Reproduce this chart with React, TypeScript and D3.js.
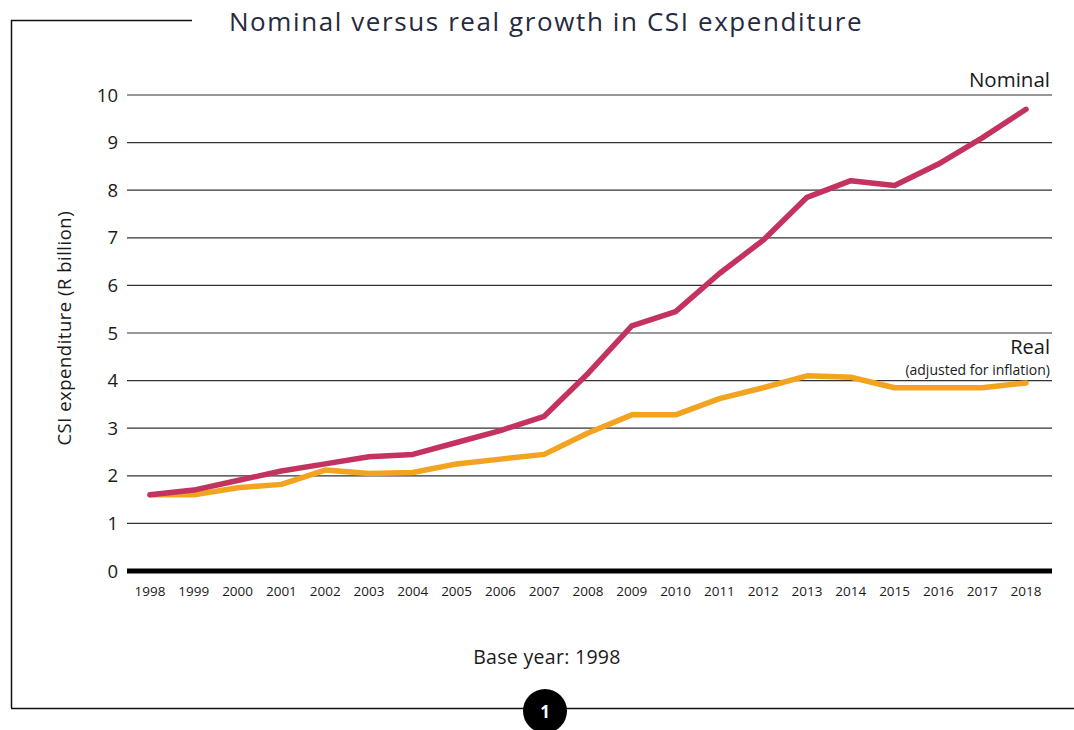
import * as d3 from "d3";

const years = [
  1998, 1999, 2000, 2001, 2002, 2003, 2004, 2005, 2006, 2007, 2008, 2009,
  2010, 2011, 2012, 2013, 2014, 2015, 2016, 2017, 2018,
];
const nominal = [
  1.6, 1.7, 1.9, 2.1, 2.25, 2.4, 2.45, 2.7, 2.95, 3.25, 4.15, 5.15, 5.45,
  6.25, 6.95, 7.85, 8.2, 8.1, 8.55, 9.1, 9.7,
];
const real = [
  1.6, 1.6, 1.75, 1.82, 2.12, 2.05, 2.07, 2.25, 2.35, 2.45, 2.9, 3.28, 3.28,
  3.62, 3.85, 4.1, 4.07, 3.85, 3.85, 3.85, 3.95,
];
const yTicks = [0, 1, 2, 3, 4, 5, 6, 7, 8, 9, 10];

const W = 1074;
const H = 730;
const FONT = "'Open Sans', 'DejaVu Sans', sans-serif";

export default function App() {
  const x = d3.scalePoint<number>().domain(years).range([150, 1026]);
  const y = d3.scaleLinear().domain([0, 10]).range([571, 95]);

  const line = d3
    .line<number>()
    .x((_, i) => x(years[i])!)
    .y((d) => y(d));

  return (
    <svg
      width={W}
      height={H}
      style={{ position: "absolute", left: 0, top: 0, background: "#fff" }}
      fontFamily={FONT}
    >
      {/* frame */}
      <path d="M192,20.5 H11.5 V708" fill="none" stroke="#111" strokeWidth={1.5} />
      <line x1={11} x2={W} y1={708.5} y2={708.5} stroke="#111" strokeWidth={1.5} />
      <circle cx={545} cy={711} r={22} fill="#000" />
      <text x={545} y={718} fill="#fff" fontSize={17} fontWeight="bold" textAnchor="middle">
        1
      </text>

      <text x={546} y={31} fontSize={26} fill="#262a40" textAnchor="middle" letterSpacing={1.6}>
        Nominal versus real growth in CSI expenditure
      </text>

      {/* grid + y ticks */}
      {yTicks.map((t) => (
        <g key={t}>
          {t > 0 && (
            <line x1={127} x2={1052} y1={y(t)} y2={y(t)} stroke="#333" strokeWidth={1.2} />
          )}
          <text x={118} y={y(t) + 6.5} fontSize={18.5} fill="#1a1a1a" textAnchor="end">
            {t}
          </text>
        </g>
      ))}
      <line x1={127} x2={1052} y1={y(0)} y2={y(0)} stroke="#000" strokeWidth={5} />

      {/* x ticks */}
      {years.map((yr) => (
        <text key={yr} x={x(yr)} y={596} fontSize={13.5} fill="#1a1a1a" textAnchor="middle">
          {yr}
        </text>
      ))}

      <text
        transform={`translate(71,${y(5.1)}) rotate(-90)`}
        fontSize={18.5}
        fill="#1a1a1a"
        textAnchor="middle"
        letterSpacing={0.5}
      >
        CSI expenditure (R billion)
      </text>

      <path d={line(real)!} fill="none" stroke="#f2a31f" strokeWidth={5.5} strokeLinejoin="round" strokeLinecap="round" />
      <path d={line(nominal)!} fill="none" stroke="#c4325f" strokeWidth={5.5} strokeLinejoin="round" strokeLinecap="round" />

      <text x={1050} y={87} fontSize={20.5} fill="#1a1a1a" textAnchor="end">
        Nominal
      </text>
      <text x={1050} y={354} fontSize={20} fill="#1a1a1a" textAnchor="end">
        Real
      </text>
      <text x={1050} y={375} fontSize={14} fill="#1a1a1a" textAnchor="end">
        (adjusted for inflation)
      </text>

      <text x={547} y={664} fontSize={19.5} fill="#1a1a1a" textAnchor="middle" letterSpacing={0.3}>
        Base year: 1998
      </text>
    </svg>
  );
}
